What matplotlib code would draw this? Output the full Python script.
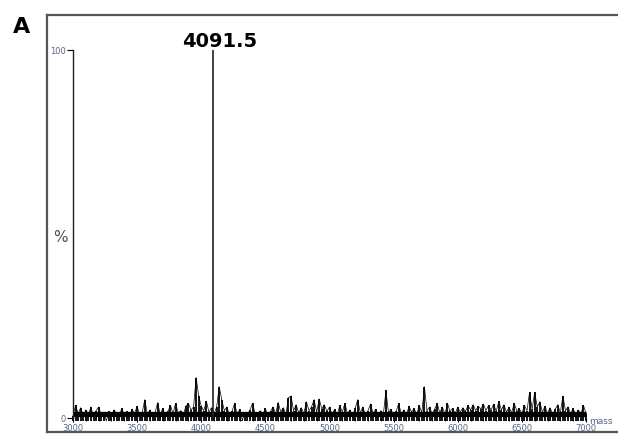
import numpy as np
import matplotlib
matplotlib.use("Agg")
import matplotlib.pyplot as plt
from matplotlib.lines import Line2D
from matplotlib.ticker import MultipleLocator

# Spectrum trace sampled every 20 Da from 3000 to 7000 (relative intensity, %)
mass_start, mass_step = 3000, 20
noise_intensity = [
    0.5, 3.5, 1.2, 2.8, 0.6, 2.2, 1.0, 3.0, 0.4, 2.0,    # 3000-3180
    3.0, 0.8, 1.6, -0.8, 1.8, 0.6, 2.2, 1.2, 0.5, 2.6,   # 3200-3380
    1.0, 1.8, 0.4, 2.4, 1.2, 3.2, 0.8, 1.6, 5.0, 1.0,    # 3400-3580
    2.2, 0.6, 1.4, 4.2, 1.0, 2.6, 0.5, 1.8, 3.4, 1.2,    # 3600-3780
    4.0, 1.4, 2.0, 0.8, 3.2, 4.0, 2.2, 3.0, 11.0, 6.0,   # 3800-3980
    3.2, 2.0, 4.6, 1.6, 2.8, 1.2, 3.0, 8.5, 5.0, 2.0,    # 4000-4180
    3.0, 0.8, 1.8, 4.0, 1.0, 2.4, -0.6, 1.4, 0.8, 2.2,   # 4200-4380
    4.0, 1.2, 0.6, 2.0, 1.0, 2.6, 0.4, 1.8, 3.0, 1.2,    # 4400-4580
    4.2, 1.6, 2.8, 1.0, 5.5, 6.0, 2.0, 3.6, 1.4, 2.8,    # 4600-4780
    1.2, 4.4, 2.0, 3.0, 5.0, 1.6, 5.2, 2.4, 3.6, 1.8,    # 4800-4980
    3.0, 1.0, 2.4, 0.8, 3.4, 1.6, 4.0, 1.2, 2.2, 0.6,    # 5000-5180
    2.6, 5.0, 1.4, 3.0, 0.8, 2.0, 3.8, 1.2, 2.4, 0.4,    # 5200-5380
    2.0, 1.0, 7.5, 1.4, 2.4, 0.6, 1.8, 4.0, 1.0, 2.2,    # 5400-5580
    0.8, 3.2, 1.6, 2.6, 1.0, 3.4, 1.4, 8.5, 2.0, 3.0,    # 5600-5780
    1.2, 2.4, 4.0, 1.4, 3.0, 1.0, 4.0, 1.8, 2.6, 1.2,    # 5800-5980
    3.0, 1.6, 2.8, 1.8, 3.4, 2.2, 3.6, 2.0, 3.2, 2.4,    # 6000-6180
    3.8, 2.0, 3.4, 2.2, 3.8, 1.8, 4.5, 2.2, 3.6, 1.6,    # 6200-6380
    3.0, 1.4, 4.0, 2.0, 2.6, 1.2, 3.4, 2.0, 7.0, 2.4,    # 6400-6580
    7.0, 3.0, 4.4, 1.6, 3.2, 1.2, 2.8, 1.0, 2.4, 3.6,    # 6600-6780
    1.4, 6.0, 2.0, 3.0, 1.2, 2.6, 0.8, 2.2, 1.0, 3.5,    # 6800-6980
    1.2,                                                 # 7000
]
masses = mass_start + mass_step * np.arange(len(noise_intensity))
baseline_level = 1.0

# Labelled base peak
peak_mass = 4091.5
peak_intensity = 100.0

x_ticks = [3000, 3500, 4000, 4500, 5000, 5500, 6000, 6500, 7000]
y_ticks = [0, 100]

W, H = 618, 436
fig = plt.figure(figsize=(W / 100, H / 100), dpi=100)
ax = fig.add_axes([73 / W, 1 - 418 / H, (586 - 73) / W, (418 - 50) / H])

tick_col = "#55658a"

# Stick spectrum over a dense baseline band
ax.vlines(masses, -0.7, noise_intensity, color="black", lw=1.3, clip_on=False)
ax.plot([masses[0], masses[-1]], [baseline_level, baseline_level],
        color="black", lw=3.8, solid_capstyle="butt", clip_on=False)
ax.plot(masses, noise_intensity, color="black", lw=0.5, clip_on=False)
ax.vlines(peak_mass, 0, peak_intensity, color="#222222", lw=1.2)
ax.annotate(f"{peak_mass:.1f}", xy=(peak_mass, peak_intensity),
            xytext=(5, -1), textcoords="offset points",
            ha="center", va="bottom", fontsize=14, fontweight="bold")

ax.set_xlim(3000, 7000)
ax.set_ylim(0, 100)
ax.set_xticks(x_ticks)
ax.set_xticklabels([str(t) for t in x_ticks])
ax.xaxis.set_minor_locator(MultipleLocator(100))
ax.set_yticks(y_ticks)
ax.set_yticklabels([str(t) for t in y_ticks])

ax.tick_params(axis="x", which="major", direction="out", length=3, width=0.8,
               pad=1, labelsize=6, labelcolor=tick_col)
ax.tick_params(axis="x", which="minor", direction="out", length=2, width=0.6)
ax.tick_params(axis="y", direction="out", length=4, width=0.8, pad=1,
               labelsize=6, labelcolor=tick_col)

for side in ("top", "right", "bottom"):
    ax.spines[side].set_visible(False)
ax.spines["left"].set_linewidth(1.0)
ax.spines["left"].set_color("#222222")

fig.text(60 / W, 1 - 238 / H, "%", fontsize=11, color="#505050",
         ha="center", va="center")
fig.text(589 / W, 1 - 421 / H, "mass", fontsize=6.5, color=tick_col,
         ha="left", va="center")
fig.text(22 / W, 1 - 27 / H, "A", fontsize=16, fontweight="bold",
         ha="center", va="center")

# Panel frame (open on the right)
frame_kw = dict(color="#555555", lw=1.6, transform=fig.transFigure)
x0, x1 = 47 / W, 1.01
y0, y1 = 1 - 432 / H, 1 - 15 / H
fig.add_artist(Line2D([x0, x1], [y1, y1], **frame_kw))
fig.add_artist(Line2D([x0, x0], [y0, y1], **frame_kw))
fig.add_artist(Line2D([x0, x1], [y0, y0], **frame_kw))

fig.savefig("out.png", dpi=100)
